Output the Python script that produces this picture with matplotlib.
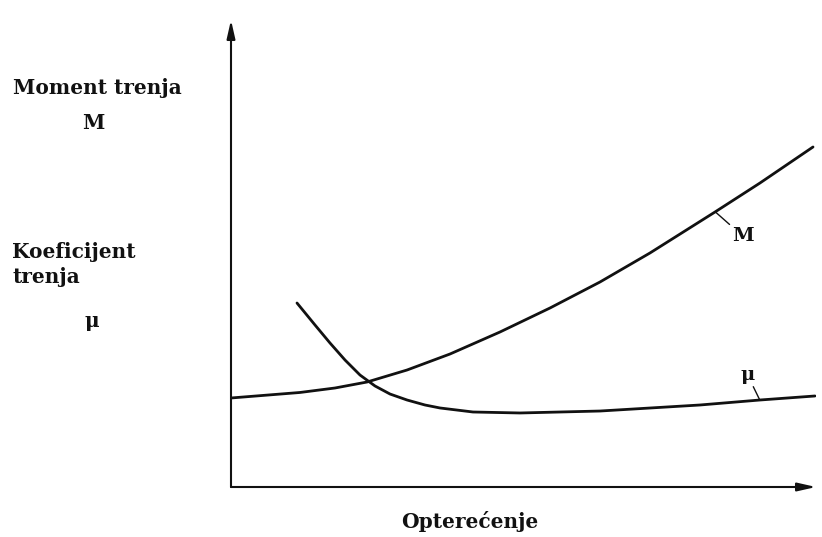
import matplotlib.pyplot as plt

# load axis (arbitrary units 0..100) and curve values
m_load = [0, 11.79, 17.78, 23.25, 30.09, 37.44, 45.98, 54.53, 63.08, 71.62, 82.74, 90.43, 99.49]
m_moment = [19.06, 20.24, 21.20, 22.48, 25.05, 28.48, 33.19, 38.33, 43.90, 50.11, 58.89, 65.10, 72.81]

mu_load = [11.28, 14.36, 16.92, 19.49, 22.05, 24.62, 27.18, 30.09, 33.16, 35.73, 41.37,
           49.40, 63.08, 80.17, 90.43, 99.83]
mu_coef = [39.40, 34.69, 30.84, 27.19, 23.98, 21.63, 19.91, 18.63, 17.56, 16.92, 16.06,
           15.85, 16.27, 17.56, 18.63, 19.49]

fig = plt.figure(figsize=(8.22, 5.37), dpi=100)
ax = fig.add_axes([231 / 822, 50 / 537, 585 / 822, 467 / 537])
ax.set_xlim(0, 100)
ax.set_ylim(0, 100)
ax.axis('off')

ink = '#111111'
ax.plot(m_load, m_moment, color=ink, lw=2.0, solid_capstyle='round', solid_joinstyle='round')
ax.plot(mu_load, mu_coef, color=ink, lw=2.0, solid_capstyle='round', solid_joinstyle='round')

# axes with arrows
arrow = dict(arrowstyle='-|>,head_length=1.1,head_width=0.25', color=ink, lw=1.5,
             shrinkA=0, shrinkB=0)
ax.annotate('', xy=(0, 1), xytext=(0, 0), xycoords='axes fraction', arrowprops=arrow)
ax.annotate('', xy=(1, 0), xytext=(0, 0), xycoords='axes fraction', arrowprops=arrow)

font = dict(family='DejaVu Serif', weight='bold', color=ink)

# curve labels with small leader lines
lead = dict(arrowstyle='-', color=ink, lw=1.0, shrinkA=0, shrinkB=0)
ax.annotate('M', xy=(82.8, 58.9), xytext=(87.5, 53.7), ha='center', va='center',
            fontsize=14, arrowprops=lead, **font)
ax.annotate('μ', xy=(90.4, 18.6), xytext=(88.3, 24.0), ha='center', va='center',
            fontsize=14, arrowprops=lead, **font)

# axis titles
fs = 14.5
fig.text(97 / 822, 1 - 88 / 537, 'Moment trenja', ha='center', va='center', fontsize=fs, **font)
fig.text(93 / 822, 1 - 123 / 537, 'M', ha='center', va='center', fontsize=fs, **font)
fig.text(12 / 822, 1 - 252 / 537, 'Koeficijent', ha='left', va='center', fontsize=fs, **font)
fig.text(12 / 822, 1 - 277 / 537, 'trenja', ha='left', va='center', fontsize=fs, **font)
fig.text(92 / 822, 1 - 321 / 537, 'μ', ha='center', va='center', fontsize=fs, **font)
fig.text(470 / 822, 1 - 522 / 537, 'Opterećenje', ha='center', va='center', fontsize=fs, **font)

fig.savefig('out.png', dpi=100)
